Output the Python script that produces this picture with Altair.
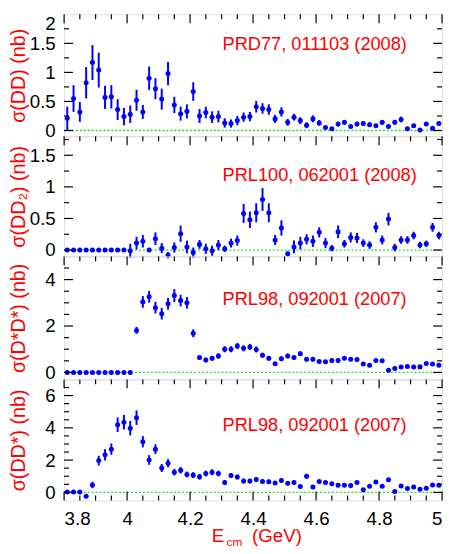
import altair as alt
import pandas as pd

# ---------------- data ----------------
energy = [3.81, 3.83, 3.85, 3.87, 3.89, 3.91, 3.93, 3.95, 3.97, 3.99,
          4.01, 4.03, 4.05, 4.07, 4.09, 4.11, 4.13, 4.15, 4.17, 4.19,
          4.21, 4.23, 4.25, 4.27, 4.29, 4.31, 4.33, 4.35, 4.37, 4.39,
          4.41, 4.43, 4.45, 4.47, 4.49, 4.51, 4.53, 4.55, 4.57, 4.59,
          4.61, 4.63, 4.65, 4.67, 4.69, 4.71, 4.73, 4.75, 4.77, 4.79,
          4.81, 4.83, 4.85, 4.87, 4.89, 4.91, 4.93, 4.95, 4.97, 4.99]

dd_val = [0.21, 0.55, 0.32, 0.82, 1.17, 1.04, 0.57, 0.58, 0.36, 0.24,
          0.28, 0.52, 0.32, 0.90, 0.72, 0.54, 0.98, 0.44, 0.29, 0.33,
          0.67, 0.25, 0.31, 0.23, 0.24, 0.13, 0.12, 0.17, 0.23, 0.24,
          0.41, 0.38, 0.36, 0.20, 0.32, 0.14, 0.23, 0.17, 0.09, 0.20,
          0.13, 0.05, 0.03, 0.11, 0.14, 0.07, 0.11, 0.12, 0.10, 0.08,
          0.14, 0.07, 0.14, 0.19, 0.03, 0.08, 0.01, 0.11, 0.04, 0.12]
dd_err = [0.20, 0.23, 0.17, 0.27, 0.30, 0.30, 0.20, 0.20, 0.18, 0.15,
          0.15, 0.18, 0.12, 0.20, 0.18, 0.18, 0.20, 0.14, 0.12, 0.12,
          0.16, 0.12, 0.10, 0.10, 0.10, 0.08, 0.07, 0.08, 0.08, 0.08,
          0.10, 0.09, 0.09, 0.07, 0.08, 0.06, 0.06, 0.06, 0.05, 0.06,
          0.05, 0.03, 0.03, 0.04, 0.04, 0.03, 0.04, 0.04, 0.04, 0.03,
          0.04, 0.03, 0.04, 0.05, 0.02, 0.03, 0.02, 0.03, 0.03, 0.03]

dd2_val = [0, 0, 0, 0, 0, 0, 0, 0, 0, 0,
           -0.01, 0.11, 0.14, 0.00, 0.18, 0.03, -0.08, 0.04, 0.26, 0.05,
           -0.04, 0.09, 0.02, -0.01, 0.08, 0.02, 0.11, 0.15, 0.58, 0.48,
           0.59, 0.80, 0.59, 0.16, 0.35, -0.06, 0.05, 0.11, 0.17, 0.14,
           0.28, 0.11, 0.03, 0.29, 0.10, 0.20, 0.19, 0.11, 0.08, 0.36,
           0.16, 0.49, 0.04, 0.16, 0.16, 0.23, 0.08, 0.10, 0.36, 0.23]
dd2_err = [0, 0, 0, 0, 0, 0, 0, 0, 0, 0,
           0.11, 0.10, 0.10, 0.01, 0.10, 0.08, 0.05, 0.08, 0.13, 0.10,
           0.08, 0.07, 0.08, 0.08, 0.08, 0.05, 0.07, 0.08, 0.15, 0.13,
           0.15, 0.18, 0.15, 0.08, 0.12, 0.04, 0.10, 0.10, 0.08, 0.09,
           0.08, 0.08, 0.05, 0.10, 0.06, 0.08, 0.08, 0.06, 0.06, 0.08,
           0.07, 0.10, 0.06, 0.06, 0.06, 0.06, 0.05, 0.05, 0.07, 0.06]

dsds_val = [0, 0, 0, 0, 0, 0, 0, 0, 0, 0,
            0.00, 1.81, 3.04, 3.26, 2.79, 2.53, 2.96, 3.31, 3.10, 3.00,
            1.69, 0.64, 0.54, 0.61, 0.71, 1.00, 1.00, 1.14, 1.04, 1.10,
            0.99, 0.74, 0.61, 0.37, 0.59, 0.71, 0.64, 0.81, 0.57, 0.57,
            0.47, 0.46, 0.51, 0.51, 0.61, 0.57, 0.56, 0.36, 0.31, 0.51,
            0.50, 0.09, 0.17, 0.23, 0.26, 0.23, 0.24, 0.39, 0.36, 0.31]
dsds_err = [0, 0, 0, 0, 0, 0, 0, 0, 0, 0,
            0, 0.15, 0.25, 0.25, 0.25, 0.25, 0.25, 0.28, 0.25, 0.25,
            0.17, 0.10, 0.10, 0.10, 0.12, 0.13, 0.13, 0.13, 0.13, 0.13,
            0.13, 0.11, 0.10, 0.08, 0.10, 0.10, 0.10, 0.10, 0.09, 0.09,
            0.08, 0.08, 0.08, 0.08, 0.08, 0.08, 0.08, 0.07, 0.06, 0.08,
            0.08, 0.04, 0.04, 0.04, 0.04, 0.04, 0.04, 0.05, 0.05, 0.05]

dds_val = [0.02, 0.02, 0.02, -0.24, 0.46, 1.97, 2.33, 2.68, 4.19, 4.35,
           3.98, 4.63, 3.14, 2.01, 2.68, 1.51, 1.81, 1.25, 1.37, 1.11,
           1.07, 0.97, 1.17, 1.25, 1.17, 0.62, 1.05, 0.95, 0.70, 0.70,
           0.80, 0.68, 0.66, 0.58, 0.74, 0.56, 0.62, 0.36, 1.00, 0.34,
           0.68, 0.62, 0.54, 0.44, 0.44, 0.42, 0.62, 0.16, 0.38, 0.64,
           0.38, 0.78, 0.06, 0.40, 0.24, 0.34, 0.20, 0.26, 0.46, 0.44]
dds_err = [0, 0, 0, 0.05, 0.20, 0.30, 0.35, 0.35, 0.45, 0.45,
           0.45, 0.45, 0.35, 0.30, 0.30, 0.25, 0.25, 0.20, 0.20, 0.18,
           0.18, 0.18, 0.18, 0.18, 0.18, 0.15, 0.15, 0.15, 0.15, 0.14,
           0.14, 0.13, 0.13, 0.12, 0.12, 0.12, 0.12, 0.10, 0.15, 0.10,
           0.10, 0.10, 0.10, 0.10, 0.10, 0.10, 0.10, 0.06, 0.08, 0.10,
           0.08, 0.10, 0.05, 0.07, 0.06, 0.06, 0.05, 0.05, 0.06, 0.06]

x_labels = [3.8, 4.0, 4.2, 4.4, 4.6, 4.8, 5.0]
x_minor = [3.85, 3.9, 3.95, 4.05, 4.1, 4.15, 4.25, 4.3, 4.35, 4.45, 4.5, 4.55,
           4.65, 4.7, 4.75, 4.85, 4.9, 4.95]

titles = ["σ(DD) (nb)", "σ(DD₂) (nb)", "σ(D*D*) (nb)", "σ(DD*) (nb)"]
refs = ["PRD77, 011103 (2008)", "PRL100, 062001 (2008)",
        "PRL98, 092001 (2007)", "PRL98, 092001 (2007)"]
x_title = ["E", "cm", "(GeV)"]
y_labels = [[0, 0.5, 1, 1.5, 2], [0, 0.5, 1, 1.5], [0, 2, 4], [0, 2, 4, 6]]
y_minor = [[0.25, 0.75, 1.25, 1.75], [0.25, 0.75, 1.25, 1.75],
           [0.5, 1, 1.5, 2.5, 3, 3.5, 4.5], [0.5, 1, 1.5, 2.5, 3, 3.5, 4.5, 5, 5.5, 6.5]]
y_domains = [[-0.1, 2.0], [-0.1, 1.8], [-0.3, 5.0], [-0.5, 7.0]]
heights = [124, 122, 125, 123]
ref_y = [36, 45, 49, 52]

W = 384
FONT = "Liberation Sans"
BLUE = "#0000ff"
RED = "#ff0000"
MAJ = 9
MIN = 5


def panel(i, vals, errs, bottom=False):
    H = heights[i]
    xs = alt.Scale(domain=[3.8, 5.0], nice=False, zero=False)
    ys = alt.Scale(domain=y_domains[i], nice=False, zero=False)
    if bottom:
        xaxis = alt.Axis(values=x_labels, format="~g", ticks=False, domain=False,
                         grid=False, labelPadding=9, labelFont=FONT,
                         labelFontSize=19, labelColor="black", title=None)
    else:
        xaxis = None
    yaxis = alt.Axis(values=y_labels[i], format="~g", ticks=False, domain=False,
                     grid=False, labelPadding=9, labelFont=FONT, labelFontSize=19,
                     labelColor="black", labelFlush=(i == 0),
                     title=titles[i], titleX=-46, titleY=H / 2,
                     titleAngle=-90, titleAlign="center", titleBaseline="middle",
                     titleColor=RED, titleFont=FONT, titleFontSize=20,
                     titleFontWeight="normal")

    def X(f):
        return alt.X(f, type="quantitative", scale=xs, axis=xaxis)

    def Y(f):
        return alt.Y(f, type="quantitative", scale=ys, axis=yaxis)

    df = pd.DataFrame({"E": energy, "v": vals,
                       "lo": [v - e for v, e in zip(vals, errs)],
                       "hi": [v + e for v, e in zip(vals, errs)]})

    zero = alt.Chart(pd.DataFrame({"v": [0]})).mark_rule(
        color="#22dd22", strokeDash=[2, 2], strokeWidth=1.3
    ).encode(y=Y("v"), x=alt.value(0), x2=alt.value(W))

    bars = alt.Chart(df).mark_rule(color=BLUE, strokeWidth=2).encode(
        x=X("E"), y=Y("lo"), y2="hi")
    pts = alt.Chart(df).mark_circle(color=BLUE, opacity=1, size=26).encode(
        x=X("E"), y=Y("v"))

    xmaj = pd.DataFrame({"E": x_labels})
    xmin = pd.DataFrame({"E": x_minor})
    ymaj = pd.DataFrame({"v": [t for t in y_labels[i] if y_domains[i][0] < t < y_domains[i][1]]})
    ymin = pd.DataFrame({"v": y_minor[i]})

    tick = dict(color="black", strokeWidth=1.2)
    layers = [zero, bars, pts]
    layers.append(alt.Chart(xmaj).mark_rule(**tick).encode(x=X("E"), y=alt.value(0), y2=alt.value(MAJ)))
    layers.append(alt.Chart(xmin).mark_rule(**tick).encode(x=X("E"), y=alt.value(0), y2=alt.value(MIN)))
    if bottom:
        layers.append(alt.Chart(xmaj).mark_rule(**tick).encode(x=X("E"), y=alt.value(H), y2=alt.value(H - MAJ)))
        layers.append(alt.Chart(xmin).mark_rule(**tick).encode(x=X("E"), y=alt.value(H), y2=alt.value(H - MIN)))
    layers.append(alt.Chart(ymaj).mark_rule(**tick).encode(y=Y("v"), x=alt.value(0), x2=alt.value(MAJ)))
    layers.append(alt.Chart(ymin).mark_rule(**tick).encode(y=Y("v"), x=alt.value(0), x2=alt.value(MIN)))
    layers.append(alt.Chart(ymaj).mark_rule(**tick).encode(y=Y("v"), x=alt.value(W), x2=alt.value(W - MAJ)))
    layers.append(alt.Chart(ymin).mark_rule(**tick).encode(y=Y("v"), x=alt.value(W), x2=alt.value(W - MIN)))

    layers.append(alt.Chart(pd.DataFrame({"t": [refs[i]]})).mark_text(
        align="left", baseline="alphabetic", font=FONT, fontSize=18.5, color=RED
    ).encode(x=alt.value(161), y=alt.value(ref_y[i]), text="t:N"))

    if bottom:
        px = [150, 165, 191]
        py = [H + 42, H + 46, H + 42]
        fs = [19, 12, 19]
        for k in range(3):
            layers.append(alt.Chart(pd.DataFrame({"t": [x_title[k]]})).mark_text(
                align="left", baseline="alphabetic", font=FONT,
                fontSize=fs[k], color=RED
            ).encode(x=alt.value(px[k]), y=alt.value(py[k]), text="t:N"))

    return alt.layer(*layers).properties(width=W, height=H)


chart = alt.vconcat(
    panel(0, dd_val, dd_err),
    panel(1, dd2_val, dd2_err),
    panel(2, dsds_val, dsds_err),
    panel(3, dds_val, dds_err, bottom=True),
    spacing=0, bounds="flush",
).properties(padding={"left": 0, "top": 0, "right": 0, "bottom": 0}
).configure_view(stroke="black", strokeWidth=1.5
).configure(background="white")

chart.save("out.html", embed_options={"renderer": "svg", "actions": False})
